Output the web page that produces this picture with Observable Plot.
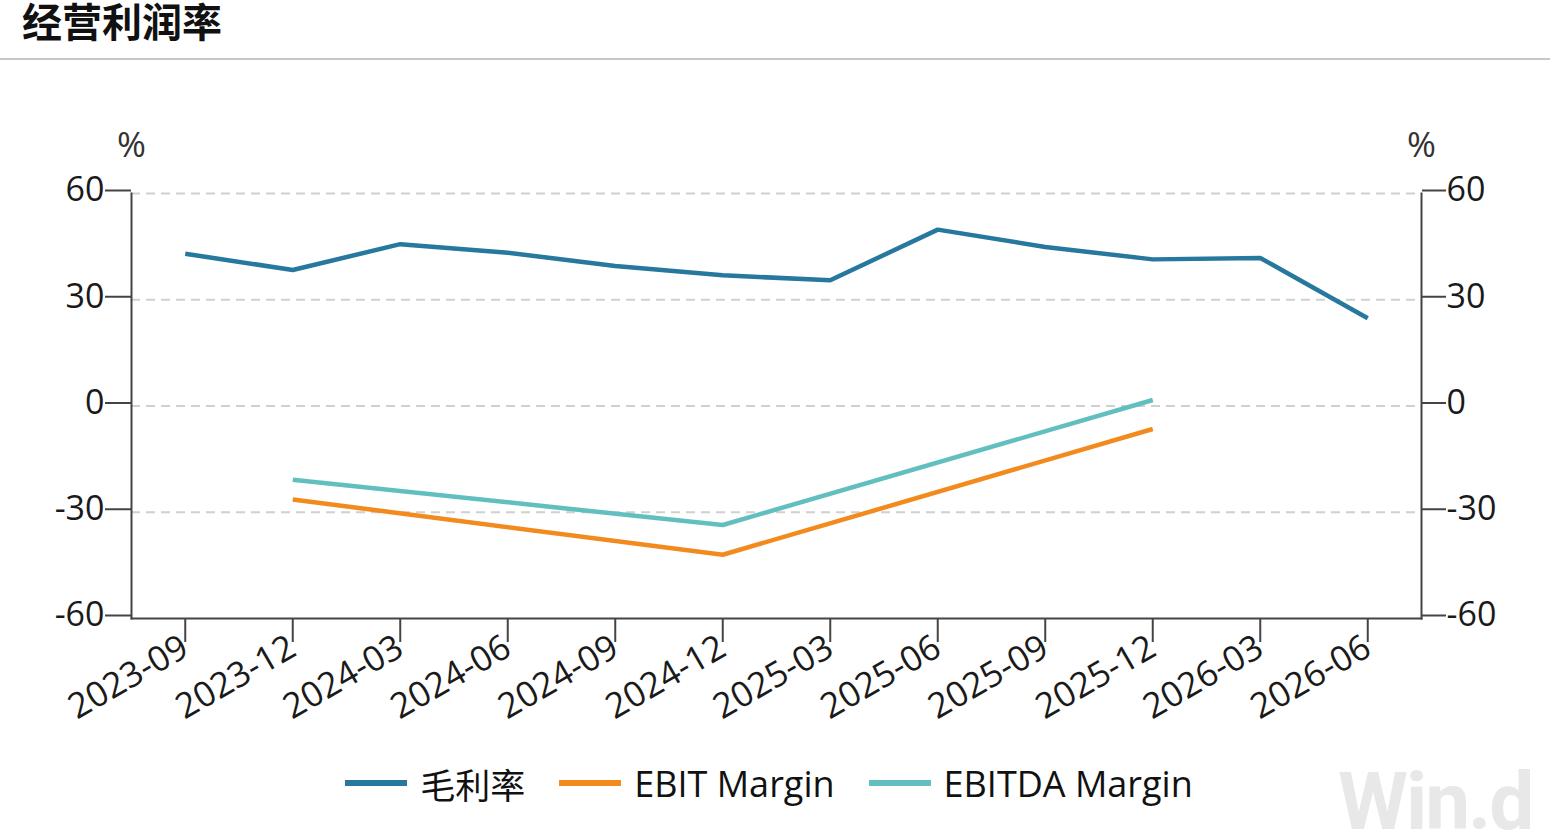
<!DOCTYPE html>
<html>
<head>
<meta charset="utf-8">
<script src="https://cdn.jsdelivr.net/npm/d3@7"></script>
<script src="https://cdn.jsdelivr.net/npm/@observablehq/plot@0.6"></script>
<style>
  html, body { margin: 0; padding: 0; background: #fff; }
  body { width: 1550px; height: 840px; position: relative; overflow: hidden; font-family: "Open Sans", "Noto Sans CJK SC", sans-serif; }
  #title { position: absolute; left: 22px; top: 0px; height: 40px; line-height: 40px; font-size: 40px; font-weight: 700; font-family: "Noto Sans CJK SC", sans-serif; color: #111; }
  #rule { position: absolute; left: 0; top: 58px; width: 1550px; height: 2px; background: #c8c8c8; }
  #chart { position: absolute; left: 0; top: 60px; }
  #legend { position: absolute; left: 0; width: 1550px; top: 760px; height: 46px; display: flex; justify-content: center; align-items: center; padding-right: 12px; box-sizing: border-box; }
  .item { display: flex; align-items: center; margin: 0 17px; font-size: 36px; color: #111; }
  .sw { width: 62px; height: 6px; margin-right: 13px; }
  .item .cjk { font-family: "Noto Sans CJK SC", sans-serif; font-size: 35px; }
  #wm { position: absolute; left: 1338px; top: 762px; height: 78px; line-height: 80px; font-family: "Roboto", "DejaVu Sans", sans-serif; font-weight: 700; font-size: 80px; color: #e8e8e8; letter-spacing: -2px; }
</style>
</head>
<body>
<div id="title">经营利润率</div>
<div id="rule"></div>
<div id="chart"></div>
<div id="wm">Win.d</div>
<div id="legend"></div>
<script>
const periods = ["2023-09","2023-12","2024-03","2024-06","2024-09","2024-12","2025-03","2025-06","2025-09","2025-12","2026-03","2026-06"];
const grossMargin = [43.0, 38.4, 45.7, 43.3, 39.5, 36.9, 35.5, 49.8, 44.9, 41.4, 41.8, 24.8];
const ebitPeriods = ["2023-12","2024-12","2025-12"];
const ebitMargin = [-26.4, -42.0, -6.5];
const ebitdaMargin = [-20.8, -33.6, 1.7];
const yTicks = [-60, -30, 0, 30, 60];
const gridTicks = [-30, 0, 30, 60];
const seriesNames = ["毛利率", "EBIT Margin", "EBITDA Margin"];
const seriesColors = ["#27789e", "#f28a1e", "#62bfc0"];

const data = [];
periods.forEach((p, i) => data.push({period: p, value: grossMargin[i], series: seriesNames[0]}));
ebitPeriods.forEach((p, i) => data.push({period: p, value: ebitMargin[i], series: seriesNames[1]}));
ebitPeriods.forEach((p, i) => data.push({period: p, value: ebitdaMargin[i], series: seriesNames[2]}));

const font = "Open Sans, Noto Sans CJK SC, sans-serif";
const fmt = d => String(d);

const chart = Plot.plot({
  width: 1550,
  height: 680,
  marginTop: 133,
  marginBottom: 122,
  marginLeft: 131,
  marginRight: 129,
  style: {fontFamily: font, background: "#fff", overflow: "visible"},
  x: {type: "point", domain: periods, padding: 0.5, align: 0.5, round: false, label: null},
  y: {domain: [-60, 60], label: null},
  color: {domain: seriesNames, range: seriesColors},
  marks: [
    Plot.gridY(gridTicks, {stroke: "#d0d0d0", strokeOpacity: 1, strokeWidth: 2, strokeDasharray: "9,6"}),
    Plot.frame({anchor: "left", stroke: "#444", strokeWidth: 2}),
    Plot.frame({anchor: "right", stroke: "#444", strokeWidth: 2}),
    Plot.frame({anchor: "bottom", stroke: "#444", strokeWidth: 2}),
    Plot.axisY(yTicks, {anchor: "left", tickSize: 26, tickPadding: 1, fontSize: 34, tickFormat: fmt, stroke: "#444", strokeWidth: 2, fill: "#1a1a1a", dy: -3, label: null}),
    Plot.axisY(yTicks, {anchor: "right", tickSize: 24, tickPadding: 1, fontSize: 34, tickFormat: fmt, stroke: "#444", strokeWidth: 2, fill: "#1a1a1a", dy: -3, label: null}),
    Plot.axisX(periods, {anchor: "bottom", tickSize: 24, tickPadding: 2, tickRotate: -30, fontSize: 35, stroke: "#444", strokeWidth: 2, fill: "#1a1a1a", label: null}),
    Plot.line(data, {x: "period", y: "value", z: "series", stroke: "series", strokeWidth: 4.5, strokeLinejoin: "miter", strokeLinecap: "butt"}),
    Plot.text(["%"], {frameAnchor: "top-left", dy: -61, textAnchor: "middle", fontSize: 35, fill: "#333"}),
    Plot.text(["%"], {frameAnchor: "top-right", dy: -61, textAnchor: "middle", fontSize: 35, fill: "#333"})
  ]
});
document.getElementById("chart").appendChild(chart);

const legend = document.getElementById("legend");
seriesNames.forEach((name, i) => {
  const item = document.createElement("div");
  item.className = "item";
  const sw = document.createElement("div");
  sw.className = "sw";
  sw.style.background = seriesColors[i];
  const label = document.createElement("span");
  label.textContent = name;
  if (i === 0) label.className = "cjk";
  item.appendChild(sw);
  item.appendChild(label);
  legend.appendChild(item);
});
</script>
</body>
</html>
